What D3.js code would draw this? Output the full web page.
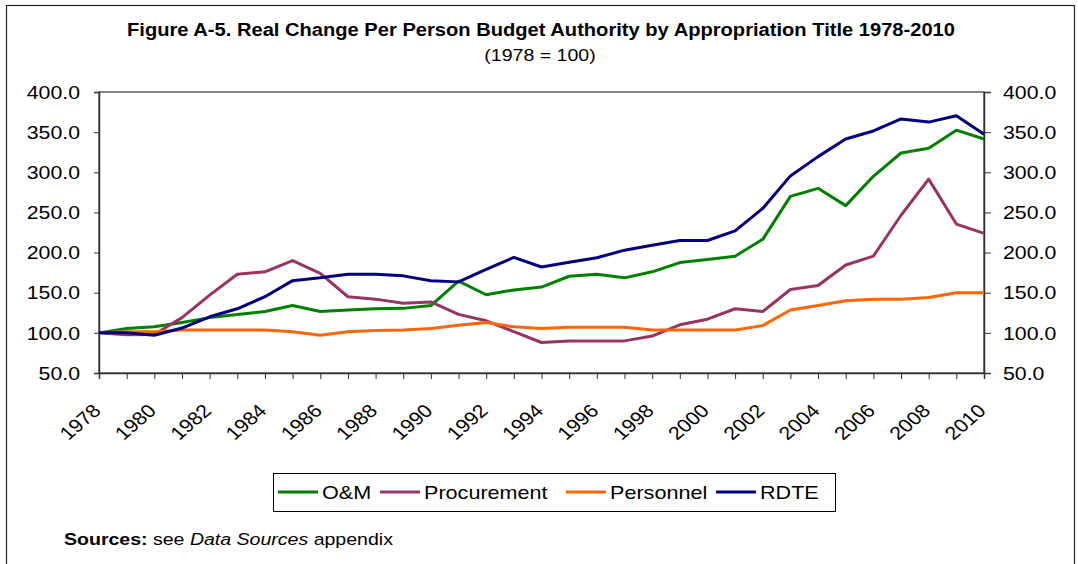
<!DOCTYPE html>
<html>
<head>
<meta charset="utf-8">
<script src="https://cdn.jsdelivr.net/npm/d3@7"></script>
<style>
  body { margin: 0; background: #fff; }
  text { font-family: "Liberation Sans", Arial, sans-serif; fill: #000; }
</style>
</head>
<body>
<svg id="chart" width="1078" height="564"></svg>
<script>
var years = d3.range(1978, 2011);
var seriesNames = ["O&M", "Procurement", "Personnel", "RDTE"];
var seriesColors = ["#008000", "#993366", "#FF6600", "#000080"];

var om = [100, 105.5, 107.5, 113, 119, 123, 126.5, 134, 126.5, 128.5, 130, 130.5, 134, 164.5, 147.5,
  153.5, 157, 170.5, 173, 168.5, 176, 187.5, 191.5, 195.5, 216.5, 270, 280, 258.5, 295, 324, 330, 352.5, 341.5];
var procurement = [100, 97.5, 98, 119, 147, 173, 176, 190, 174, 145, 142, 137, 138.5, 123, 115,
  101.5, 88, 90, 90, 90, 96, 110, 117, 130, 126.5, 154, 159, 184.5, 195.5, 246.5, 291.5, 235.5, 224];
var personnel = [100, 101.5, 101.5, 103.5, 103.5, 103.5, 103.5, 101.5, 97, 101.5, 103, 103.5, 105.5, 109.5, 113,
  107.5, 105.5, 107, 107, 107, 103.5, 103.5, 103.5, 103.5, 109, 128.5, 134, 140, 142, 142, 144, 150, 150];
var rdte = [100, 100, 97, 106, 120, 130, 145, 165, 168.5, 173, 173, 171, 165, 163.5, 179,
  194, 182, 188, 193.5, 203, 209, 215, 215, 227, 255, 295.5, 319.5, 341.5, 351.5, 366.5, 362.5, 370.5, 347.5];
var seriesValues = [om, procurement, personnel, rdte];
var yTicks = [50, 100, 150, 200, 250, 300, 350, 400];
var xTickLabels = d3.range(1978, 2011, 2);

var sx = 1.15; // the source text is a little wide
var svg = d3.select("#chart");

// outer frame
svg.append("rect")
  .attr("x", 6.5).attr("y", 5.5)
  .attr("width", 1068).attr("height", 580)
  .attr("fill", "none").attr("stroke", "#222").attr("stroke-width", 1.2);

var margin = {top: 92, left: 99, right: 94, bottom: 191},
    width = 1078 - margin.left - margin.right,
    height = 564 - margin.top - margin.bottom;

var g = svg.append("g")
  .attr("transform", "translate(" + margin.left + "," + margin.top + ")");

var x = d3.scaleLinear().domain([1978, 2010]).range([0, width]);
var y = d3.scaleLinear().domain([50, 400]).range([height, 0]);

// plot frame
g.append("rect")
  .attr("width", width).attr("height", height)
  .attr("fill", "none").attr("stroke", "#444").attr("stroke-width", 1.3);

var leftAxis = g.append("g")
  .call(d3.axisLeft(y).tickValues(yTicks).tickFormat("").tickSize(5));
var rightAxis = g.append("g")
  .attr("transform", "translate(" + width + ",0)")
  .call(d3.axisRight(y).tickValues(yTicks).tickFormat("").tickSize(7));
[leftAxis, rightAxis].forEach(function(a) {
  a.select(".domain").attr("stroke", "#333").attr("stroke-width", 1.5);
  a.selectAll(".tick line").attr("stroke", "#333");
});

// y labels, both sides
g.append("g").selectAll("g")
  .data(yTicks)
  .enter().append("g")
  .attr("transform", function(d) { return "translate(-19," + y(d) + ") scale(" + sx + ",1)"; })
  .append("text")
  .attr("dy", "0.36em")
  .style("text-anchor", "end")
  .style("font-size", "18.5px")
  .text(d3.format(".1f"));
g.append("g").selectAll("g")
  .data(yTicks)
  .enter().append("g")
  .attr("transform", function(d) { return "translate(" + (width + 19) + "," + y(d) + ") scale(" + sx + ",1)"; })
  .append("text")
  .attr("dy", "0.36em")
  .style("text-anchor", "start")
  .style("font-size", "18.5px")
  .text(d3.format(".1f"));

var bottomAxis = g.append("g")
  .attr("transform", "translate(0," + height + ")")
  .call(d3.axisBottom(x).tickValues(years).tickFormat("").tickSize(6));
bottomAxis.select(".domain").attr("stroke", "#333").attr("stroke-width", 1.5);
bottomAxis.selectAll(".tick line").attr("stroke", "#333");

g.append("g").selectAll("text")
  .data(xTickLabels)
  .enter().append("text")
  .attr("transform", function(d) {
    return "translate(" + (x(d) + 3) + "," + (height + 39) + ") scale(" + sx + ",1) rotate(-45)";
  })
  .style("text-anchor", "end")
  .style("font-size", "18.5px")
  .text(function(d) { return d; });

var line = d3.line()
  .x(function(d, i) { return x(years[i]); })
  .y(function(d) { return y(d); });

g.selectAll(".series")
  .data(seriesValues)
  .enter().append("path")
  .attr("class", "series")
  .attr("d", line)
  .attr("fill", "none")
  .attr("stroke", function(d, i) { return seriesColors[i]; })
  .attr("stroke-width", 3)
  .attr("stroke-linejoin", "round");

// titles
svg.append("text")
  .attr("x", 127).attr("y", 36)
  .attr("textLength", 828)
  .attr("lengthAdjust", "spacingAndGlyphs")
  .style("font-size", "18px")
  .style("font-weight", "bold")
  .text("Figure A-5. Real Change Per Person Budget Authority by Appropriation Title 1978-2010");
svg.append("g")
  .attr("transform", "translate(540,61) scale(" + sx + ",1)")
  .append("text")
  .style("text-anchor", "middle")
  .style("font-size", "17px")
  .text("(1978 = 100)");

// legend
var legend = svg.append("g");
legend.append("rect")
  .attr("x", 273.5).attr("y", 473.5)
  .attr("width", 562).attr("height", 38)
  .attr("fill", "#fff").attr("stroke", "#000");
var legendX = [278, 380, 566, 716];
seriesNames.forEach(function(name, i) {
  legend.append("line")
    .attr("x1", legendX[i]).attr("x2", legendX[i] + 40)
    .attr("y1", 492).attr("y2", 492)
    .attr("stroke", seriesColors[i]).attr("stroke-width", 3);
  legend.append("g")
    .attr("transform", "translate(" + (legendX[i] + 44) + ",499) scale(1.22,1)")
    .append("text")
    .style("font-size", "17.7px")
    .text(name);
});

// sources
var src = svg.append("g")
  .attr("transform", "translate(64,545) scale(" + sx + ",1)")
  .append("text").style("font-size", "17px");
src.append("tspan").style("font-weight", "bold").text("Sources:");
src.append("tspan").text(" see ");
src.append("tspan").style("font-style", "italic").text("Data Sources");
src.append("tspan").text("  appendix");
</script>
</body>
</html>
